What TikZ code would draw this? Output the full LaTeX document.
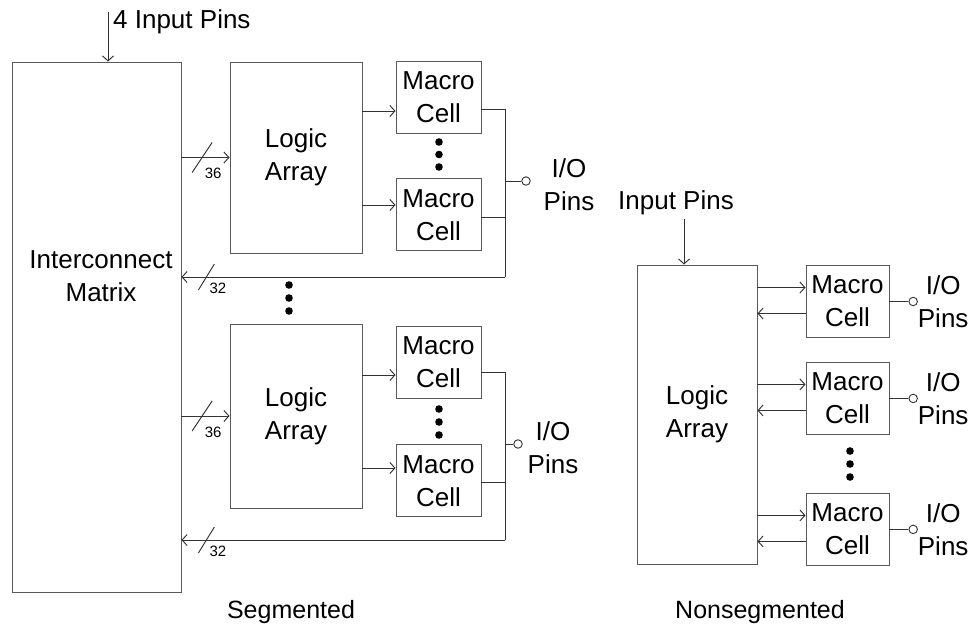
\documentclass[tikz,border=0pt]{standalone}
\usepackage{fontspec}
\setmainfont{Liberation Sans}
\usetikzlibrary{arrows.meta,positioning,calc}

\begin{document}
\begin{tikzpicture}[x=1pt, y=-1pt, font=\fontsize{26}{33}\selectfont,
    >={Straight Barb[length=5pt,width=11pt]}, node distance=20pt,
    box/.style={draw=black!65, line width=0.95pt, align=center, inner sep=0pt},
    mc/.style={box, minimum width=85pt, minimum height=72pt},
    sig/.style={draw=black!80, line width=0.95pt},
    small/.style={font=\fontsize{15}{18}\selectfont, inner sep=0pt},
    iopin/.style={draw=black!80, line width=0.9pt, fill=white, circle, minimum size=8.5pt, inner sep=0pt},
    lbl/.style={align=center, inner sep=0pt}]
    \useasboundingbox (0,0) rectangle (977,640);

    % segmented
    \node[box, minimum width=169pt, minimum height=530pt] (im) at (96.5,327) {};
    \node[lbl] (imtxt) at (101,276) {Interconnect\\Matrix};
    \node[box, minimum width=132pt, minimum height=191pt] (la1) at (296,157.5) {Logic\\Array};
    \node[box, minimum width=132pt, minimum height=184pt] (la2) at (296,416) {Logic\\Array};
    \node[mc] (mc1) at (438.5,97) {Macro\\Cell};
    \node[mc, below=45pt of mc1] (mc2) {Macro\\Cell};
    \node[mc] (mc3) at (438.5,362) {Macro\\Cell};
    \node[mc, below=46pt of mc3] (mc4) {Macro\\Cell};

    \node[lbl, anchor=west] (in4txt) at (113,22) {4 Input Pins};
    \coordinate (in1) at (108,12);
    \draw[sig,->] (in1) -- (in1 |- im.north);

    % logic array inputs
    \draw[sig,->] (im.east |- la1.west) -- coordinate[pos=.43] (t1) (la1.west);
    \draw[sig] ($(t1)+(-10,15)$) -- ($(t1)+(10,-15)$);
    \node[small] (w1) at ($(t1)+(11,16)$) {36};
    \draw[sig,->] (im.east |- la2.west) -- coordinate[pos=.43] (t2) (la2.west);
    \draw[sig] ($(t2)+(-10,15)$) -- ($(t2)+(10,-15)$);
    \node[small] (w2) at ($(t2)+(11,16)$) {36};

    % macro cell inputs
    \coordinate (i1) at (0,111);
    \coordinate (i2) at (0,205);
    \coordinate (i3) at (0,375);
    \coordinate (i4) at (0,468);
    \draw[sig,->] (la1.east |- i1) -- (mc1.west |- i1);
    \draw[sig,->] (la1.east |- i2) -- (mc2.west |- i2);
    \draw[sig,->] (la2.east |- i3) -- (mc3.west |- i3);
    \draw[sig,->] (la2.east |- i4) -- (mc4.west |- i4);

    % outputs and feedback
    \coordinate (o1) at (505,109);
    \coordinate (o2) at (505,217);
    \coordinate (r1) at (505,277);
    \draw[sig] (mc1.east |- o1) -- (o1) -- (r1);
    \draw[sig] (mc2.east |- o2) -- (o2);
    \draw[sig,->] (r1) -- coordinate[pos=.923] (t3) (im.east |- r1);
    \draw[sig] ($(t3)+(-8,13)$) -- ($(t3)+(8,-13)$);
    \node[small] (w3) at ($(t3)+(11.5,11)$) {32};

    \coordinate (o3) at (505,372);
    \coordinate (o4) at (505,482);
    \coordinate (r2) at (505,540);
    \draw[sig] (mc3.east |- o3) -- (o3) -- (r2);
    \draw[sig] (mc4.east |- o4) -- (o4);
    \draw[sig,->] (r2) -- coordinate[pos=.923] (t4) (im.east |- r2);
    \draw[sig] ($(t4)+(-8,13)$) -- ($(t4)+(8,-13)$);
    \node[small] (w4) at ($(t4)+(11.5,11)$) {32};

    % io pins
    \coordinate (io1) at (505,181);
    \node[iopin] (p1) at (526,181) {};
    \draw[sig] (io1) -- (p1);
    \node[lbl] (pt1) at (569,185) {I/O\\Pins};
    \coordinate (io2) at (505,444);
    \node[iopin] (p2) at (518,444) {};
    \draw[sig] (io2) -- (p2);
    \node[lbl] (pt2) at (553,448) {I/O\\Pins};

    \foreach \y in {142,154.5,167} \fill (439,\y) circle (3.8pt);
    \foreach \y in {285,298,311} \fill (289,\y) circle (3.8pt);
    \foreach \y in {409,422,435} \fill (439,\y) circle (3.8pt);

    % nonsegmented
    \node[box, minimum width=120pt, minimum height=299pt] (la3) at (697,414.5) {Logic\\Array};
    \node[mc, minimum width=83pt] (mcr1) at (847.5,301.5) {Macro\\Cell};
    \node[mc, minimum width=83pt, below=24pt of mcr1] (mcr2) {Macro\\Cell};
    \node[mc, minimum width=83pt, below=58pt of mcr2] (mcr3) {Macro\\Cell};

    \node[lbl] (intxt) at (676,203) {Input Pins};
    \coordinate (in2) at (684,219);
    \draw[sig,->] (in2) -- (in2 |- la3.north);

    \foreach \m in {mcr1,mcr2,mcr3}{
        \draw[sig,->] ($(la3.east |- \m.west)+(0,-14)$) -- ($(\m.west)+(0,-14)$);
        \draw[sig,->] ($(\m.west)+(0,12)$) -- ($(la3.east |- \m.west)+(0,12)$);
        \node[iopin, right=19pt of \m.east] (p\m) {};
        \draw[sig] (\m.east) -- (p\m);
        \node[lbl] (t\m) at ($(p\m)+(30,0)$) {I/O\\Pins};
    }
    \foreach \y in {451,464,477} \fill (850,\y) circle (3.8pt);

    \node[font=\fontsize{25}{30}\selectfont] (seg) at (291,612) {Segmented};
    \node[font=\fontsize{25}{30}\selectfont] (nonseg) at (760,612) {Nonsegmented};
\end{tikzpicture}
\end{document}
